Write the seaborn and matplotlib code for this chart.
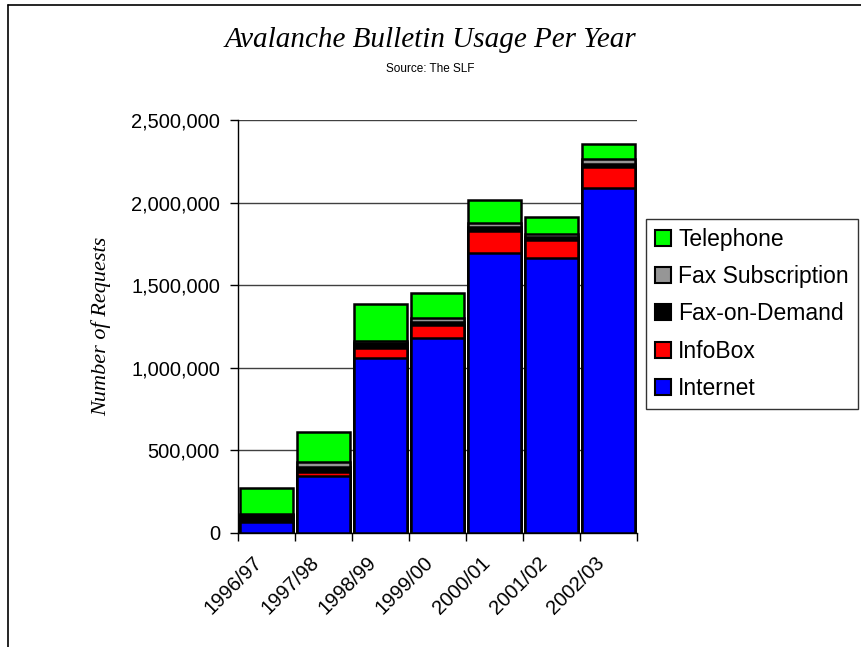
import pandas as pd
import matplotlib
matplotlib.use('Agg')
import matplotlib.pyplot as plt
import matplotlib.transforms as mtransforms
import seaborn as sns
from matplotlib.patches import Patch
from matplotlib.lines import Line2D
from matplotlib.ticker import FuncFormatter, MultipleLocator, FixedLocator

# Data
years = ['1996/97', '1997/98', '1998/99', '1999/00', '2000/01', '2001/02', '2002/03']
internet = [68000, 347000, 1057000, 1178000, 1697000, 1663000, 2086000]
infobox = [5000, 25000, 60000, 80000, 133000, 111000, 131000]
fax_on_demand = [35000, 30000, 34000, 20000, 20000, 16000, 18000]
fax_subscription = [10000, 30000, 14000, 25000, 25000, 20000, 27000]
telephone = [152000, 181000, 220000, 152000, 138000, 105000, 91000]

series = ['Internet', 'InfoBox', 'Fax-on-Demand', 'Fax Subscription', 'Telephone']
colors = {'Internet': '#0000FF', 'InfoBox': '#FF0000', 'Fax-on-Demand': '#000000',
          'Fax Subscription': '#969696', 'Telephone': '#00FF00'}

df = pd.DataFrame({'year': years, 'Internet': internet, 'InfoBox': infobox,
                   'Fax-on-Demand': fax_on_demand, 'Fax Subscription': fax_subscription,
                   'Telephone': telephone})

# cumulative totals so each layer is drawn on top of the next one
cum = df[series].cumsum(axis=1)
cum['year'] = df['year']

sns.set_style('white')
plt.rcParams['font.family'] = ['Liberation Sans', 'DejaVu Sans']
plt.rcParams['text.color'] = 'black'
plt.rcParams['axes.labelcolor'] = 'black'
plt.rcParams['xtick.color'] = 'black'
plt.rcParams['ytick.color'] = 'black'

fig = plt.figure(figsize=(8.61, 6.47), dpi=100)
ax = fig.add_axes([0.2764, 0.1762, 0.4634, 0.6383])

for name in reversed(series):
    sns.barplot(data=cum, x='year', y=name, color=colors[name], width=0.93,
                edgecolor='black', linewidth=1.8, saturation=1, ax=ax, zorder=3)

ax.set_xlim(-0.5, 6.5)
ax.set_ylim(0, 2500000)
ax.yaxis.set_major_locator(MultipleLocator(500000))
ax.yaxis.set_major_formatter(FuncFormatter(lambda v, p: f'{v:,.0f}'))
ax.grid(axis='y', color='#404040', linewidth=1, zorder=0)
ax.set_axisbelow(True)

for s in ['top', 'right']:
    ax.spines[s].set_visible(False)
for s in ['left', 'bottom']:
    ax.spines[s].set_color('black')
    ax.spines[s].set_linewidth(1)

ax.tick_params(axis='y', which='major', length=6, width=1, color='black',
               labelsize=14.5, left=True, direction='out', pad=7)
ax.xaxis.set_minor_locator(FixedLocator([i - 0.5 for i in range(8)]))
ax.tick_params(axis='x', which='minor', length=6, width=1, color='black', bottom=True)
ax.tick_params(axis='x', which='major', length=0, labelsize=14.5, pad=10)
offset = mtransforms.ScaledTranslation(-14 / 100, -6 / 100, fig.dpi_scale_trans)
for lab in ax.get_xticklabels():
    lab.set_rotation(45)
    lab.set_ha('right')
    lab.set_rotation_mode('anchor')
    lab.set_transform(lab.get_transform() + offset)

ax.set_xlabel('')
ax.set_ylabel('Number of Requests', family='Liberation Serif', style='italic',
              fontsize=16, labelpad=14)

fig.text(0.5, 0.938, 'Avalanche Bulletin Usage Per Year', ha='center', va='center',
         family='Liberation Serif', style='italic', fontsize=21)
fig.text(0.5, 0.894, 'Source: The SLF', ha='center', va='center', fontsize=8.5)

handles = [Patch(facecolor=colors[n], edgecolor='black', linewidth=1.5, label=n)
           for n in reversed(series)]
leg = fig.legend(handles=handles, loc='center left',
                 bbox_to_anchor=(646 / 861, 1 - 314 / 647), fontsize=16.5,
                 frameon=True, fancybox=False, handlelength=0.7, handleheight=0.7,
                 handletextpad=0.3, labelspacing=0.62, borderpad=0.4,
                 borderaxespad=0)
leg.get_frame().set_edgecolor('black')
leg.get_frame().set_linewidth(1)

# outer chart border (left and top)
fig.add_artist(Line2D([8 / 861, 8 / 861], [0, 1 - 5 / 647], color='black', linewidth=1.2))
fig.add_artist(Line2D([8 / 861, 1], [1 - 5 / 647, 1 - 5 / 647], color='black', linewidth=1.2))

fig.savefig('out.png', dpi=100)
